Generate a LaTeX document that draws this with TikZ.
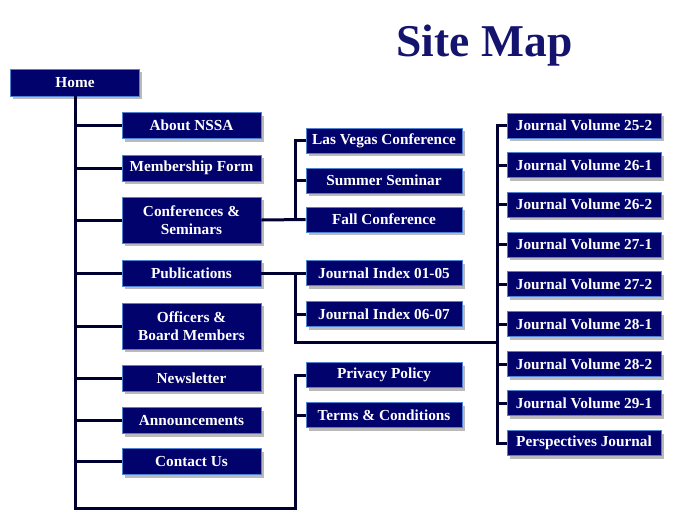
\documentclass[tikz,border=0pt]{standalone}
\usepackage{fontspec}
\setmainfont{Liberation Serif}
\usetikzlibrary{shadows}
\definecolor{navyfill}{RGB}{2,2,108}
\definecolor{boxedge}{RGB}{80,130,210}
\definecolor{linecol}{RGB}{0,0,48}
\definecolor{titlecol}{RGB}{20,20,110}
\tikzset{
  box/.style={draw=boxedge, line width=0.8pt, fill=navyfill, text=white,
    font=\bfseries\fontsize{15.3}{17}\selectfont, align=center, inner sep=0pt,
    drop shadow={shadow xshift=2.5pt, shadow yshift=-3pt, opacity=0.45, fill=black!60}},
  lbox/.style={box, minimum width=139pt, minimum height=26pt},
  lbox2/.style={box, minimum width=139pt, minimum height=46pt},
  mbox/.style={box, minimum width=156pt, minimum height=25pt},
  rbox/.style={box, minimum width=154pt, minimum height=25pt},
  conn/.style={draw=linecol, line width=3pt, line join=miter},
}
\begin{document}
\begin{tikzpicture}[x=1pt,y=-1pt]
\useasboundingbox (0,0) rectangle (679,523);
% title
\node[text=titlecol, font=\bfseries\fontsize{45.5}{48}\selectfont, anchor=base] (title) at (484.5,56) {Site Map};
% home
\node[box, minimum width=129pt, minimum height=27pt] (home) at (75,82.5) {Home};
% left column
\node[lbox] (about) at (191.5,125.5) {About NSSA};
\node[lbox] (member) at (191.5,168) {Membership Form};
\node[lbox2] (conf) at (191.5,220) {Conferences \&\\[1pt]Seminars};
\node[lbox] (pub) at (191.5,273) {Publications};
\node[lbox2] (officers) at (191.5,326) {Officers \&\\[1pt]Board Members};
\node[lbox] (news) at (191.5,378) {Newsletter};
\node[lbox] (announce) at (191.5,420.5) {Announcements};
\node[lbox] (contact) at (191.5,461.5) {Contact Us};
% middle column
\node[mbox] (lv) at (384,140.5) {Las Vegas Conference};
\node[mbox] (summer) at (384,180.5) {Summer Seminar};
\node[mbox] (fall) at (384,219.5) {Fall Conference};
\node[mbox] (ji1) at (384,273) {Journal Index 01-05};
\node[mbox] (ji2) at (384,314) {Journal Index 06-07};
\node[mbox] (privacy) at (384,375) {Privacy Policy};
\node[mbox] (terms) at (384,415) {Terms \& Conditions};
% right column
\node[rbox] (v252) at (584,125.5) {Journal Volume 25-2};
\node[rbox] (v261) at (584,165) {Journal Volume 26-1};
\node[rbox] (v262) at (584,204.5) {Journal Volume 26-2};
\node[rbox] (v271) at (584,244.5) {Journal Volume 27-1};
\node[rbox] (v272) at (584,284) {Journal Volume 27-2};
\node[rbox] (v281) at (584,324) {Journal Volume 28-1};
\node[rbox] (v282) at (584,364) {Journal Volume 28-2};
\node[rbox] (v291) at (584,403) {Journal Volume 29-1};
\node[rbox] (persp) at (584,443) {Perspectives Journal};
% bus coordinates
\coordinate (bottom) at (295,508);
\coordinate (cbus) at (295,219.5);
\coordinate (pbus) at (295,342);
\coordinate (rbus) at (497,342);
% connectors
\path[conn] (home.south) -- (home.south |- bottom) -- (bottom) -- (privacy.west -| bottom) -- (privacy.west);
\path[conn] (terms.west) -- (terms.west -| bottom);
\foreach \n in {about,member,conf,pub,officers,news,announce,contact}
  \path[conn] (\n.west) -- (\n.west -| home.south);
\path[conn] (conf.east) -- (fall.west);
\path[conn] (lv.west) -- (lv.west -| cbus) -- (cbus);
\path[conn] (summer.west) -- (summer.west -| cbus);
\path[conn] (pub.east) -- (ji1.west);
\path[conn] (ji1.west -| pbus) -- (pbus) -- (rbus);
\path[conn] (ji2.west) -- (ji2.west -| pbus);
\path[conn] (v252.west) -- (v252.west -| rbus) -- (persp.west -| rbus) -- (persp.west);
\foreach \n in {v261,v262,v271,v272,v281,v282,v291}
  \path[conn] (\n.west) -- (\n.west -| rbus);
\end{tikzpicture}
\end{document}
